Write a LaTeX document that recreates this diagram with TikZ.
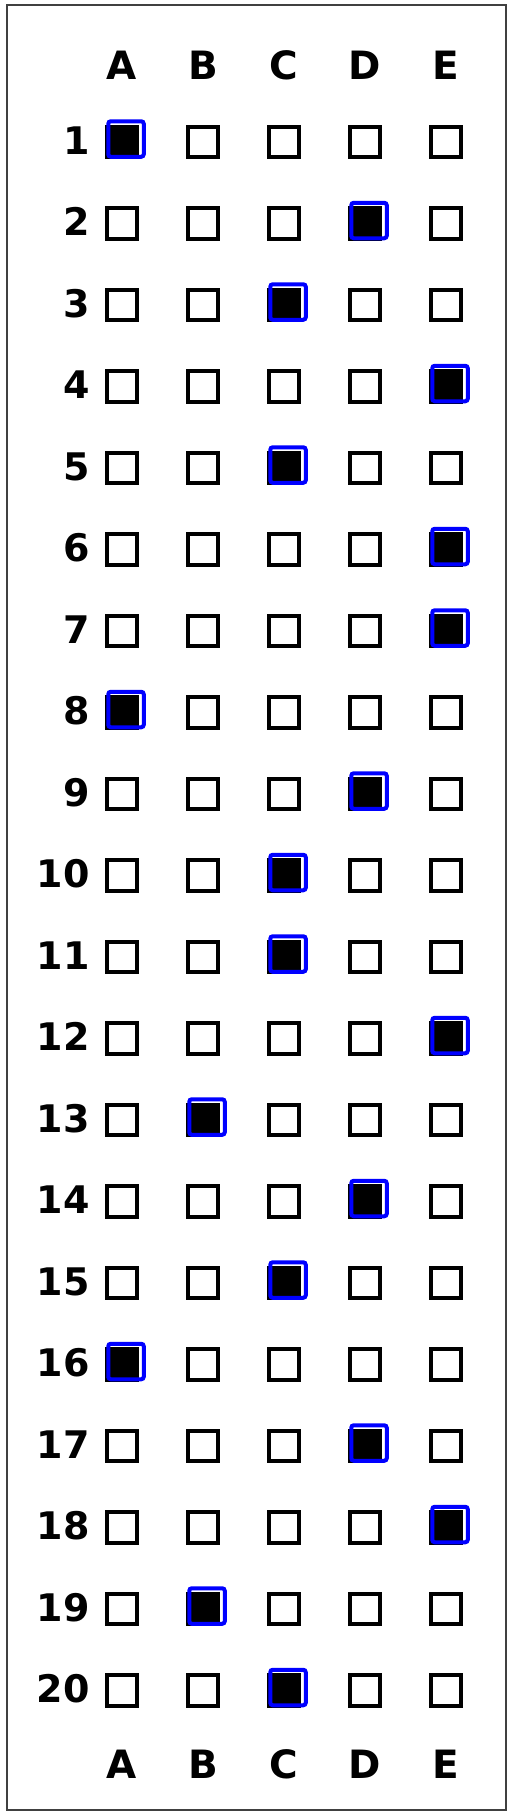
\documentclass[tikz,border=0pt]{standalone}
\usepackage{fontspec}
\setmainfont{DejaVu Sans}
\tikzset{
  choice/.style={draw=black,line width=3.7pt,minimum size=30.5pt,inner sep=0pt},
  picked/.style={draw=blue,line width=4pt,minimum size=35.5pt,inner sep=0pt,rounded corners=2.5pt},
  head/.style={font=\fontsize{39}{39}\bfseries\selectfont,inner sep=0pt,anchor=base},
  num/.style={font=\fontsize{38}{38}\bfseries\selectfont,inner sep=0pt,anchor=base east}
}
\begin{document}
\begin{tikzpicture}[x=1pt,y=-1pt]
  \useasboundingbox (0,0) rectangle (513,1816);
  \draw[black!75,line width=1.2pt] (7,5) rectangle (506,1810);
  % column letters, top and bottom
  \foreach \l [count=\i] in {A,B,C,D,E} {
    \node[head] (top\l) at ({41+81*\i},79) {\l};
    \node[head] (bot\l) at ({41+81*\i},1778) {\l};
  }
  % one row per question, \a is the marked answer
  \foreach \a [count=\r] in {A,D,C,E,C,E,E,A,D,C,C,E,B,D,C,A,D,E,B,C} {
    \pgfmathsetmacro\y{142+81.5*(\r-1)}
    \node[num] (q\r) at (90,\y+12) {\r};
    \foreach \l [count=\i] in {A,B,C,D,E}
      \node[choice] (box\r-\l) at ({41+81*\i},\y) {};
    \fill[black] (box\r-\a.south west) rectangle (box\r-\a.north east);
    \node[picked] (pick\r) at ([shift={(4,-3)}]box\r-\a) {};
  }
\end{tikzpicture}
\end{document}
